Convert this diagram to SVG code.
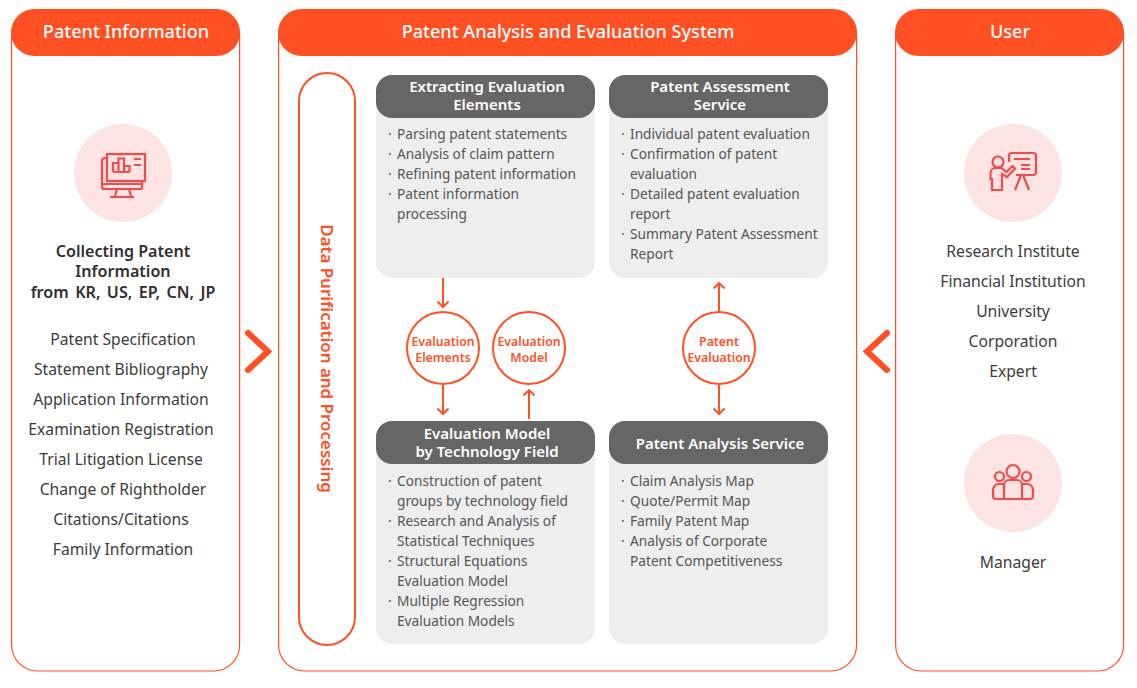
<svg xmlns="http://www.w3.org/2000/svg" width="1137" height="688" viewBox="0 0 1137 688">
<defs>
<marker id="ah" markerUnits="userSpaceOnUse" markerWidth="14" markerHeight="12" refX="12.5" refY="6" orient="auto"><path d="M7 0.5L12.5 6L7 11.5" fill="none" stroke="#ff5023" stroke-width="2"/></marker>
</defs>
<style>
text{font-family:"Noto Sans","Liberation Sans",sans-serif}
.panel{fill:#fff;stroke:#ff5023;stroke-width:1.2}
.hdr{fill:#ff5023}
.ht{fill:#fff;font-size:18.100px;font-weight:500;text-anchor:middle}
.c{fill:#3c3c3c;font-size:15.700px;text-anchor:middle}
.b{fill:#2f2f2f;font-size:16.100px;font-weight:600;text-anchor:middle}
.card{fill:#eeeeee}
.ch{fill:#666666}
.cht{fill:#fff;font-size:15px;font-weight:600;text-anchor:middle}
.l{fill:#555;font-size:13.700px}
.ct{fill:#ff5023;font-size:12.300px;font-weight:600;text-anchor:middle}
.circ{fill:#fff;stroke:#ff5023;stroke-width:2}
.icb{fill:#fde3e1}
.ic{fill:none;stroke:#f04c4c;stroke-width:2.200}
.cn{fill:none;stroke:#ff5023;stroke-width:2}
.chev{fill:none;stroke:#ff5023;stroke-width:6;stroke-linecap:round}
</style>
<g id="patent-information">
<rect class="panel" x="11.600" y="10" width="228" height="661" rx="26"/>
<rect class="hdr" x="11" y="9" width="229" height="47" rx="23.500"/>
<text class="ht" x="126" y="38">Patent Information</text>
<circle class="icb" cx="123" cy="173" r="49"/>
<g class="ic">
<rect x="107" y="154" width="38" height="27"/>
<path d="M107 158h-2a3 3 0 0 0-3 3v26a2 2 0 0 0 2 2h36a2 2 0 0 0 2-2v-6M102 184h40M117 189l-2 7M129 189l2 7M110 197h24"/>
<path d="M113 172v-9h5.500v9M118.500 172v-13.500h5.500v13.500M124 172v-6h5.500v6M113 172h16.500M134 159h7M134 165h7"/>
</g>
<text class="b" x="123" y="257">Collecting Patent</text>
<text class="b" x="123" y="277">Information</text>
<text class="b" x="123" y="298" word-spacing="2.300">from KR, US, EP, CN, JP</text>
<text class="c" x="123" y="345">Patent Specification</text>
<text class="c" x="121" y="375">Statement Bibliography</text>
<text class="c" x="121" y="405">Application Information</text>
<text class="c" x="121" y="435">Examination Registration</text>
<text class="c" x="121" y="465">Trial Litigation License</text>
<text class="c" x="123" y="495">Change of Rightholder</text>
<text class="c" x="121" y="525">Citations/Citations</text>
<text class="c" x="123" y="555">Family Information</text>
</g>
<g id="analysis-system">
<rect class="panel" x="278.600" y="10" width="578" height="661" rx="26"/>
<rect class="hdr" x="278" y="9" width="579" height="47" rx="23.500"/>
<text class="ht" x="568" y="38">Patent Analysis and Evaluation System</text>
</g>
<g id="data-purification">
<rect x="299" y="73" width="56" height="572" rx="28" fill="#fff" stroke="#ff5023" stroke-width="2"/>
<text transform="translate(321 358.500) rotate(90)" fill="#ff5023" font-size="16.950" font-weight="600" text-anchor="middle">Data Purification and Processing</text>
</g>
<g id="extracting">
<rect class="card" x="376" y="75" width="219" height="203" rx="16"/>
<rect class="ch" x="376" y="75" width="219" height="43" rx="16"/>
<text class="cht" x="487" y="92">Extracting Evaluation</text>
<text class="cht" x="487" y="110">Elements</text>
<text class="l" x="388" y="139">·<tspan x="397">Parsing patent statements</tspan></text>
<text class="l" x="388" y="159">·<tspan x="397">Analysis of claim pattern</tspan></text>
<text class="l" x="388" y="179">·<tspan x="397">Refining patent information</tspan></text>
<text class="l" x="388" y="199">·<tspan x="397">Patent information</tspan></text>
<text class="l" x="397" y="219">processing</text>
</g>
<g id="assessment">
<rect class="card" x="609" y="75" width="219" height="203" rx="16"/>
<rect class="ch" x="609" y="75" width="219" height="43" rx="16"/>
<text class="cht" x="720" y="92">Patent Assessment</text>
<text class="cht" x="720" y="110">Service</text>
<text class="l" x="621" y="139">·<tspan x="630">Individual patent evaluation</tspan></text>
<text class="l" x="621" y="159">·<tspan x="630">Confirmation of patent</tspan></text>
<text class="l" x="630" y="179">evaluation</text>
<text class="l" x="621" y="199">·<tspan x="630">Detailed patent evaluation</tspan></text>
<text class="l" x="630" y="219">report</text>
<text class="l" x="621" y="239">·<tspan x="630">Summary Patent Assessment</tspan></text>
<text class="l" x="630" y="259">Report</text>
</g>
<g id="model-field">
<rect class="card" x="376" y="421" width="219" height="223" rx="16"/>
<rect class="ch" x="376" y="421" width="219" height="43" rx="16"/>
<text class="cht" x="487" y="439">Evaluation Model</text>
<text class="cht" x="487" y="457">by Technology Field</text>
<text class="l" x="388" y="486">·<tspan x="397">Construction of patent</tspan></text>
<text class="l" x="397" y="506">groups by technology field</text>
<text class="l" x="388" y="526">·<tspan x="397">Research and Analysis of</tspan></text>
<text class="l" x="397" y="546">Statistical Techniques</text>
<text class="l" x="388" y="566">·<tspan x="397">Structural Equations</tspan></text>
<text class="l" x="397" y="586">Evaluation Model</text>
<text class="l" x="388" y="606">·<tspan x="397">Multiple Regression</tspan></text>
<text class="l" x="397" y="626">Evaluation Models</text>
</g>
<g id="analysis-service">
<rect class="card" x="609" y="421" width="219" height="223" rx="16"/>
<rect class="ch" x="609" y="421" width="219" height="43" rx="16"/>
<text class="cht" x="720" y="449">Patent Analysis Service</text>
<text class="l" x="621" y="486">·<tspan x="630">Claim Analysis Map</tspan></text>
<text class="l" x="621" y="506">·<tspan x="630">Quote/Permit Map</tspan></text>
<text class="l" x="621" y="526">·<tspan x="630">Family Patent Map</tspan></text>
<text class="l" x="621" y="546">·<tspan x="630">Analysis of Corporate</tspan></text>
<text class="l" x="630" y="566">Patent Competitiveness</text>
</g>
<g id="connectors">
<path class="cn" marker-end="url(#ah)" d="M443 278V307"/>
<path class="cn" marker-end="url(#ah)" d="M443 385V414"/>
<path class="cn" marker-end="url(#ah)" d="M529 419V390"/>
<path class="cn" marker-end="url(#ah)" d="M719 312V283"/>
<path class="cn" marker-end="url(#ah)" d="M719 385V414"/>
<path class="chev" d="M248 333L268 351.500L248 370"/>
<path class="chev" d="M887 333L867 351.500L887 370"/>
</g>
<g id="evaluation-elements">
<circle class="circ" cx="443" cy="348" r="36"/>
<text class="ct" x="443" y="346">Evaluation</text>
<text class="ct" x="443" y="362">Elements</text>
</g>
<g id="evaluation-model">
<circle class="circ" cx="529" cy="348" r="36"/>
<text class="ct" x="529" y="346">Evaluation</text>
<text class="ct" x="529" y="362">Model</text>
</g>
<g id="patent-evaluation">
<circle class="circ" cx="719" cy="348" r="36"/>
<text class="ct" x="719" y="346">Patent</text>
<text class="ct" x="719" y="362">Evaluation</text>
</g>
<g id="user">
<rect class="panel" x="895.600" y="10" width="228" height="661" rx="26"/>
<rect class="hdr" x="895" y="9" width="229" height="47" rx="23.500"/>
<text class="ht" x="1010" y="38">User</text>
<circle class="icb" cx="1013" cy="173" r="49"/>
<g class="ic">
<path d="M1009 162v-6a3 3 0 0 1 3-3h21a3 3 0 0 1 3 3v16a3 3 0 0 1-3 3h-17"/>
<path d="M1014 159h16M1021 165h9M1021 169h9M1015 190l6-15M1029 190l-6-15"/>
<circle cx="998" cy="162" r="5.500"/>
<path d="M992 190v-11h-1.500v-6a5 5 0 0 1 5-5h6l5 4 6-6 2.500 2.500-8 8.500-5-3v16z"/>
</g>
<text class="c" x="1013" y="257">Research Institute</text>
<text class="c" x="1013" y="287">Financial Institution</text>
<text class="c" x="1013" y="317">University</text>
<text class="c" x="1013" y="347">Corporation</text>
<text class="c" x="1013" y="377">Expert</text>
<circle class="icb" cx="1013" cy="483" r="49"/>
<g class="ic">
<circle cx="1013" cy="471.500" r="6.500"/><circle cx="999.500" cy="476.500" r="4.500"/><circle cx="1026.500" cy="476.500" r="4.500"/>
<path d="M1004 499v-14a5 5 0 0 1 5-5h8a5 5 0 0 1 5 5v14M1004 484h-5a6 6 0 0 0-6 6v6a3 3 0 0 0 3 3h34a3 3 0 0 0 3-3v-6a6 6 0 0 0-6-6h-5"/>
</g>
<text class="c" x="1013" y="568">Manager</text>
</g>
</svg>
